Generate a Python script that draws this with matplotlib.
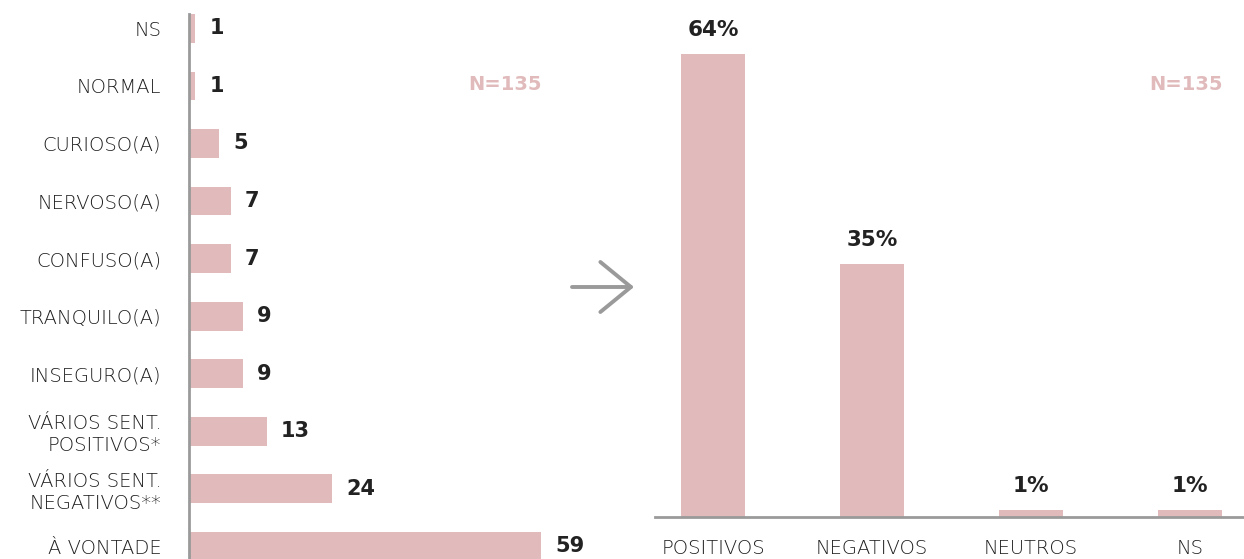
import matplotlib.pyplot as plt
from matplotlib.patches import FancyArrowPatch

# left chart: feelings (counts)
feelings = ["À VONTADE", "VÁRIOS SENT.\nNEGATIVOS**", "VÁRIOS SENT.\nPOSITIVOS*",
            "INSEGURO(A)", "TRANQUILO(A)", "CONFUSO(A)", "NERVOSO(A)",
            "CURIOSO(A)", "NORMAL", "NS"]
counts = [59, 24, 13, 9, 9, 7, 7, 5, 1, 1]

# right chart: grouped (%)
groups = ["POSITIVOS", "NEGATIVOS", "NEUTROS", "NS"]
shares = [64, 35, 1, 1]

bar_col = "#e1bbbc"
txt_col = "#1e1e1e"
spine_col = "#9a9a9a"
lab_font = dict(fontsize=14, color=txt_col, fontweight="light")

fig = plt.figure(figsize=(12.44, 5.59), dpi=100)

# ---- left horizontal bars
ax1 = fig.add_axes([189 / 1244, 0, 371 / 1244, 545 / 559])
y = list(range(len(counts)))
ax1.barh(y, counts, height=0.5, color=bar_col)
ax1.set_xlim(0, 62.2)
ax1.set_ylim(-0.22, 9.25)
for yi, c in zip(y, counts):
    ax1.text(c + 2.4, yi, str(c), va="center", ha="left", fontsize=15,
             fontweight="bold", color="#222222")
ax1.set_yticks(y)
ax1.set_yticklabels(feelings, **lab_font)
ax1.tick_params(axis="y", length=0, pad=20)
ax1.set_xticks([])
for s in ["top", "right", "bottom"]:
    ax1.spines[s].set_visible(False)
ax1.spines["left"].set_color(spine_col)
ax1.spines["left"].set_linewidth(2)
ax1.text(505 / 1244, 1 - 84 / 559, "N=135", transform=fig.transFigure,
         ha="center", va="center", fontsize=14, fontweight="bold", color=bar_col)

# ---- arrow
arr = FancyArrowPatch((572 / 1244, 1 - 287 / 559), (634 / 1244, 1 - 287 / 559),
                      transform=fig.transFigure,
                      arrowstyle="->,head_length=1.1,head_width=0.9",
                      mutation_scale=20, lw=2.8, color=spine_col,
                      shrinkA=0, shrinkB=0)
fig.add_artist(arr)

# ---- right vertical bars
ax2 = fig.add_axes([655 / 1244, 42 / 559, 589 / 1244, 517 / 559])
x = list(range(len(shares)))
ax2.bar(x, shares, width=0.4, color=bar_col)
ax2.set_xlim(-0.365, 3.34)
ax2.set_ylim(0, 71.5)
for xi, v in zip(x, shares):
    ax2.text(xi, v + 1.9, f"{v}%", ha="center", va="bottom", fontsize=15.5,
             fontweight="bold", color="#222222")
ax2.set_xticks(x)
ax2.set_xticklabels(groups, **lab_font)
ax2.tick_params(axis="x", length=0, pad=16)
ax2.set_yticks([])
for s in ["top", "right", "left"]:
    ax2.spines[s].set_visible(False)
ax2.spines["bottom"].set_color(spine_col)
ax2.spines["bottom"].set_linewidth(2)
ax2.text(1186 / 1244, 1 - 84 / 559, "N=135", transform=fig.transFigure,
         ha="center", va="center", fontsize=14, fontweight="bold", color=bar_col)

fig.savefig("out.png", dpi=100)
